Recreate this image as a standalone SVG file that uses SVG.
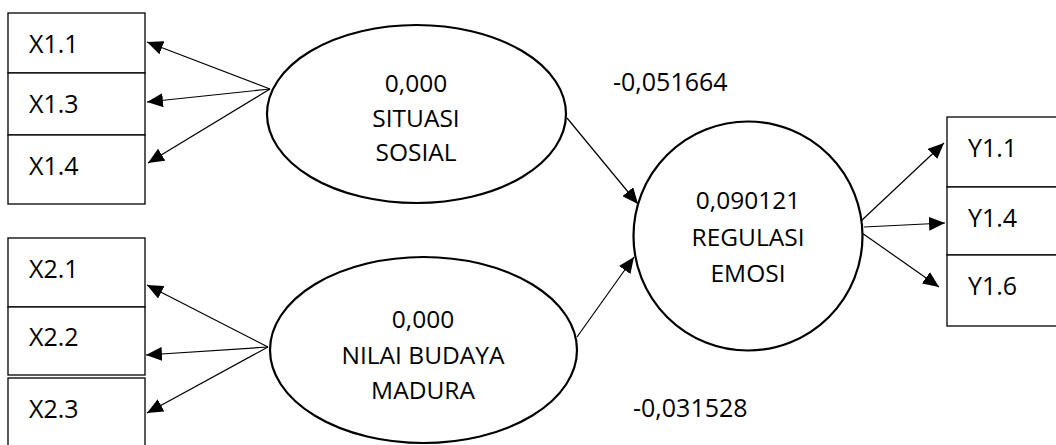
<svg xmlns="http://www.w3.org/2000/svg" width="1056" height="445" viewBox="0 0 1056 445">
<style>
.box{fill:#fff;stroke:#000;stroke-width:1.3}
.lat{fill:#fff;stroke:#000;stroke-width:2.2}
.t{font-family:"Open Sans","Liberation Sans",Arial,sans-serif;fill:#000}
.bt{font-size:25px}
.lt{font-size:24.5px;text-anchor:middle}
.c{stroke:#000;stroke-width:1.2;fill:none;marker-end:url(#ah)}
</style>
<defs>
<marker id="ah" markerUnits="userSpaceOnUse" markerWidth="18" markerHeight="14" refX="16" refY="7" orient="auto">
<path d="M0,0 L16,7 L0,14 Z" fill="#000"/>
</marker>
</defs>
<g id="connectors">
<line class="c" x1="270" y1="89" x2="147" y2="42"/>
<line class="c" x1="270" y1="89" x2="147" y2="102"/>
<line class="c" x1="270" y1="89" x2="148" y2="163"/>
<line class="c" x1="268" y1="347" x2="147" y2="285"/>
<line class="c" x1="268" y1="347" x2="146" y2="355"/>
<line class="c" x1="268" y1="347" x2="147" y2="413"/>
<line class="c" x1="567" y1="118" x2="638" y2="204"/>
<line class="c" x1="577" y1="337" x2="634" y2="257"/>
<line class="c" x1="861" y1="221" x2="944" y2="143"/>
<line class="c" x1="864" y1="227" x2="945" y2="223"/>
<line class="c" x1="862" y1="233" x2="939" y2="287"/>
</g>
<g id="X1.1"><rect class="box" x="8" y="13" width="137" height="60"/><text class="t bt" x="29" y="53">X1.1</text></g>
<g id="X1.3"><rect class="box" x="8" y="73" width="137" height="62"/><text class="t bt" x="29" y="113">X1.3</text></g>
<g id="X1.4"><rect class="box" x="8" y="135" width="137" height="69"/><text class="t bt" x="29" y="175">X1.4</text></g>
<g id="X2.1"><rect class="box" x="8" y="238" width="137" height="69"/><text class="t bt" x="29" y="278">X2.1</text></g>
<g id="X2.2"><rect class="box" x="8" y="307" width="137" height="68"/><text class="t bt" x="29" y="346">X2.2</text></g>
<g id="X2.3"><rect class="box" x="8" y="378" width="137" height="80"/><text class="t bt" x="29" y="418">X2.3</text></g>
<g id="Y1.1"><rect class="box" x="947" y="117" width="120" height="70"/><text class="t bt" x="968" y="157">Y1.1</text></g>
<g id="Y1.4"><rect class="box" x="947" y="187" width="120" height="68"/><text class="t bt" x="968" y="227">Y1.4</text></g>
<g id="Y1.6"><rect class="box" x="947" y="255" width="120" height="71"/><text class="t bt" x="968" y="295">Y1.6</text></g>
<g id="situasi-sosial"><ellipse class="lat" cx="416.5" cy="114" rx="149.5" ry="89"/>
<text class="t lt" x="416" y="92">0,000</text><text class="t lt" x="416" y="127">SITUASI</text><text class="t lt" x="416" y="161">SOSIAL</text></g>
<g id="nilai-budaya-madura"><ellipse class="lat" cx="423.5" cy="350" rx="153.5" ry="93"/>
<text class="t lt" x="423" y="328">0,000</text><text class="t lt" x="423" y="364">NILAI BUDAYA</text><text class="t lt" x="423" y="399">MADURA</text></g>
<g id="regulasi-emosi"><circle class="lat" cx="748" cy="236" r="114.5"/>
<text class="t lt" x="748" y="209">0,090121</text><text class="t lt" x="748" y="246">REGULASI</text><text class="t lt" x="748" y="282">EMOSI</text></g>
<g id="labels">
<text class="t" font-size="25" x="613" y="91">-0,051664</text>
<text class="t" font-size="25" x="633" y="417">-0,031528</text>
</g>
</svg>
